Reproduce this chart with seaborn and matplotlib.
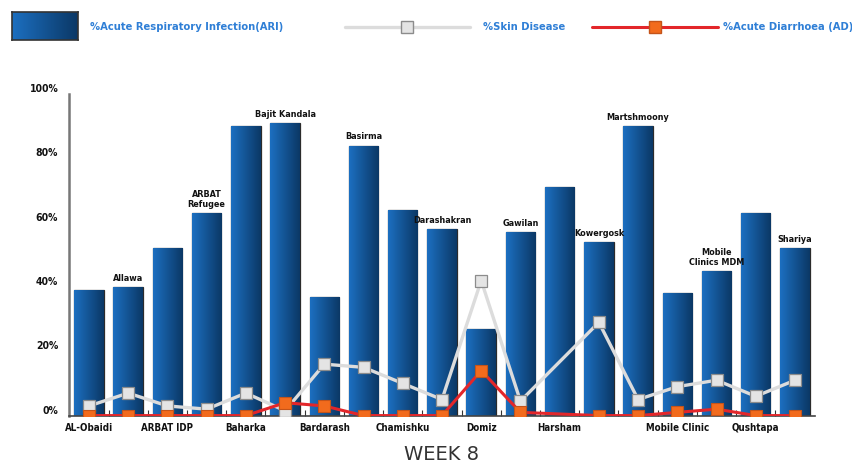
import numpy as np
import pandas as pd
import seaborn as sns
import matplotlib.pyplot as plt
from matplotlib.colors import LinearSegmentedColormap
from matplotlib.lines import Line2D

# data
sites = ['AL-Obaidi', 'Allawa', 'ARBAT IDP', 'ARBAT Refugee', 'Baharka', 'Bajit Kandala',
         'Bardarash', 'Basirma', 'Chamishku', 'Darashakran', 'Domiz', 'Gawilan', 'Harsham',
         'Kowergosk', 'Martshmoony', 'Mobile Clinic', 'Mobile Clinics MDM', 'Qushtapa', 'Shariya']
ari = [39, 40, 52, 63, 90, 91, 37, 84, 64, 58, 27, 57, 71, 54, 90, 38, 45, 63, 52]
skin = [3, 7, 3, 2, 7, 1.5, 16, 15, 10, 5, 42, 4.5, np.nan, 29, 5, 9, 11, 6, 11]
diarrhoea = [0, 0, 0, 0, 0, 4, 3, 0, 0, 0, 14, 1, np.nan, 0, 0, 1, 2, 0, 0]

# which names sit under the axis, the rest are written above the bars
bottom_labels = ['AL-Obaidi', 'ARBAT IDP', 'Baharka', 'Bardarash', 'Chamishku', 'Domiz',
                 'Harsham', 'Mobile Clinic', 'Qushtapa']
top_labels = {'Allawa': 'Allawa', 'ARBAT Refugee': 'ARBAT\nRefugee', 'Bajit Kandala': 'Bajit Kandala',
              'Basirma': 'Basirma', 'Darashakran': 'Darashakran', 'Gawilan': 'Gawilan',
              'Kowergosk': 'Kowergosk', 'Martshmoony': 'Martshmoony',
              'Mobile Clinics MDM': 'Mobile\nClinics MDM', 'Shariya': 'Shariya'}

df = pd.DataFrame({'site': sites, 'ari': ari, 'skin': skin, 'ad': diarrhoea})
df['pos'] = np.arange(len(df))

sns.set_style('white')
plt.rcParams['font.family'] = ['DejaVu Sans']
plt.rcParams['font.stretch'] = 'condensed'

fig = plt.figure(figsize=(8.53, 4.68), dpi=100)
ax = fig.add_axes([0.0813, 0.112, 0.8737, 0.687])

sns.barplot(data=df, x='site', y='ari', order=sites, color='#155a9e', width=0.75,
            edgecolor='#2b2b2b', linewidth=0.9, ax=ax, zorder=2)

# horizontal blue gradient inside every bar
blues = LinearSegmentedColormap.from_list('bl', ['#1c6fc0', '#0b3866'])
grad = np.linspace(0, 1, 64).reshape(1, -1)
for p in ax.patches:
    x0, y0 = p.get_x(), p.get_y()
    im = ax.imshow(grad, extent=[x0, x0 + p.get_width(), y0, y0 + p.get_height()],
                   aspect='auto', cmap=blues, zorder=2.1, origin='lower')
    im.set_clip_path(p)

sns.lineplot(data=df.dropna(subset=['skin']), x='pos', y='skin', color='#dcdcdc', linewidth=2.4,
             marker='s', markersize=8.5, markerfacecolor='#e4e4e4', markeredgecolor='#8c8c8c',
             markeredgewidth=0.9, ax=ax, zorder=3)
sns.lineplot(data=df.dropna(subset=['ad']), x='pos', y='ad', color='#e3262a', linewidth=2.2,
             marker='s', markersize=8.5, markerfacecolor='#f26b1d', markeredgecolor='#c4541a',
             markeredgewidth=0.8, ax=ax, zorder=4)

for i, s in enumerate(sites):
    if s in top_labels:
        ax.text(i, ari[i] + 1.3, top_labels[s], ha='center', va='bottom', fontsize=6.5,
                fontweight='bold', color='#111111', linespacing=1.1)

ax.set_xlim(-0.5, 18.5)
ax.set_ylim(0, 100)
ax.set_xticks(range(len(sites)))
ax.set_xticklabels([s if s in bottom_labels else '' for s in sites], fontsize=7,
                   fontweight='bold', color='#111111')
ax.set_xticks(np.arange(0.5, 18.5, 1), minor=True)
ax.set_yticks(range(0, 101, 20))
ax.set_yticklabels([f'{v}%' for v in range(0, 101, 20)], fontsize=7.5, fontweight='bold',
                   color='#111111')
ax.tick_params(axis='y', direction='in', length=13, width=1.4, color='#333333', pad=8)
ax.tick_params(axis='x', which='major', length=0, pad=5)
ax.tick_params(axis='x', which='minor', direction='in', length=4, width=0.8, color='#333333',
               bottom=True)
for lab in ax.get_yticklabels():
    lab.set_verticalalignment('bottom')

for side in ['top', 'right']:
    ax.spines[side].set_visible(False)
ax.spines['left'].set_color('#777777')
ax.spines['left'].set_linewidth(1.8)
ax.spines['bottom'].set_color('#444444')
ax.spines['bottom'].set_linewidth(1.2)
ax.set_ylabel('')
ax.set_xlabel('WEEK 8', fontsize=14, color='#333333', fontstretch='normal', labelpad=9)

# legend row along the top
sw = fig.add_axes([12 / 853, 1 - 40 / 468, 66 / 853, 28 / 468])
sw.imshow(grad, aspect='auto', cmap=blues)
sw.set_xticks([])
sw.set_yticks([])
for sp in sw.spines.values():
    sp.set_color('#333333')
    sp.set_linewidth(1.2)

legend_blue = '#2f7fd6'
ly = 1 - 27 / 468
fig.text(90 / 853, ly, '%Acute Respiratory Infection(ARI)', color=legend_blue,
         fontsize=8, fontweight='bold', va='center')
fig.add_artist(Line2D([345 / 853, 470 / 853], [ly, ly], color='#dcdcdc', lw=2.4,
                      transform=fig.transFigure))
fig.add_artist(Line2D([407 / 853], [ly], marker='s', markersize=8.5,
                      markerfacecolor='#e4e4e4', markeredgecolor='#8c8c8c', lw=0,
                      transform=fig.transFigure))
fig.text(483 / 853, ly, '%Skin Disease', color=legend_blue, fontsize=8,
         fontweight='bold', va='center')
fig.add_artist(Line2D([592 / 853, 718 / 853], [ly, ly], color='#e3262a', lw=2.2,
                      transform=fig.transFigure))
fig.add_artist(Line2D([655 / 853], [ly], marker='s', markersize=8.5,
                      markerfacecolor='#f26b1d', markeredgecolor='#c4541a', lw=0,
                      transform=fig.transFigure))
fig.text(723 / 853, ly, '%Acute Diarrhoea (AD)', color=legend_blue, fontsize=8,
         fontweight='bold', va='center')

fig.savefig('out.png', dpi=100)
